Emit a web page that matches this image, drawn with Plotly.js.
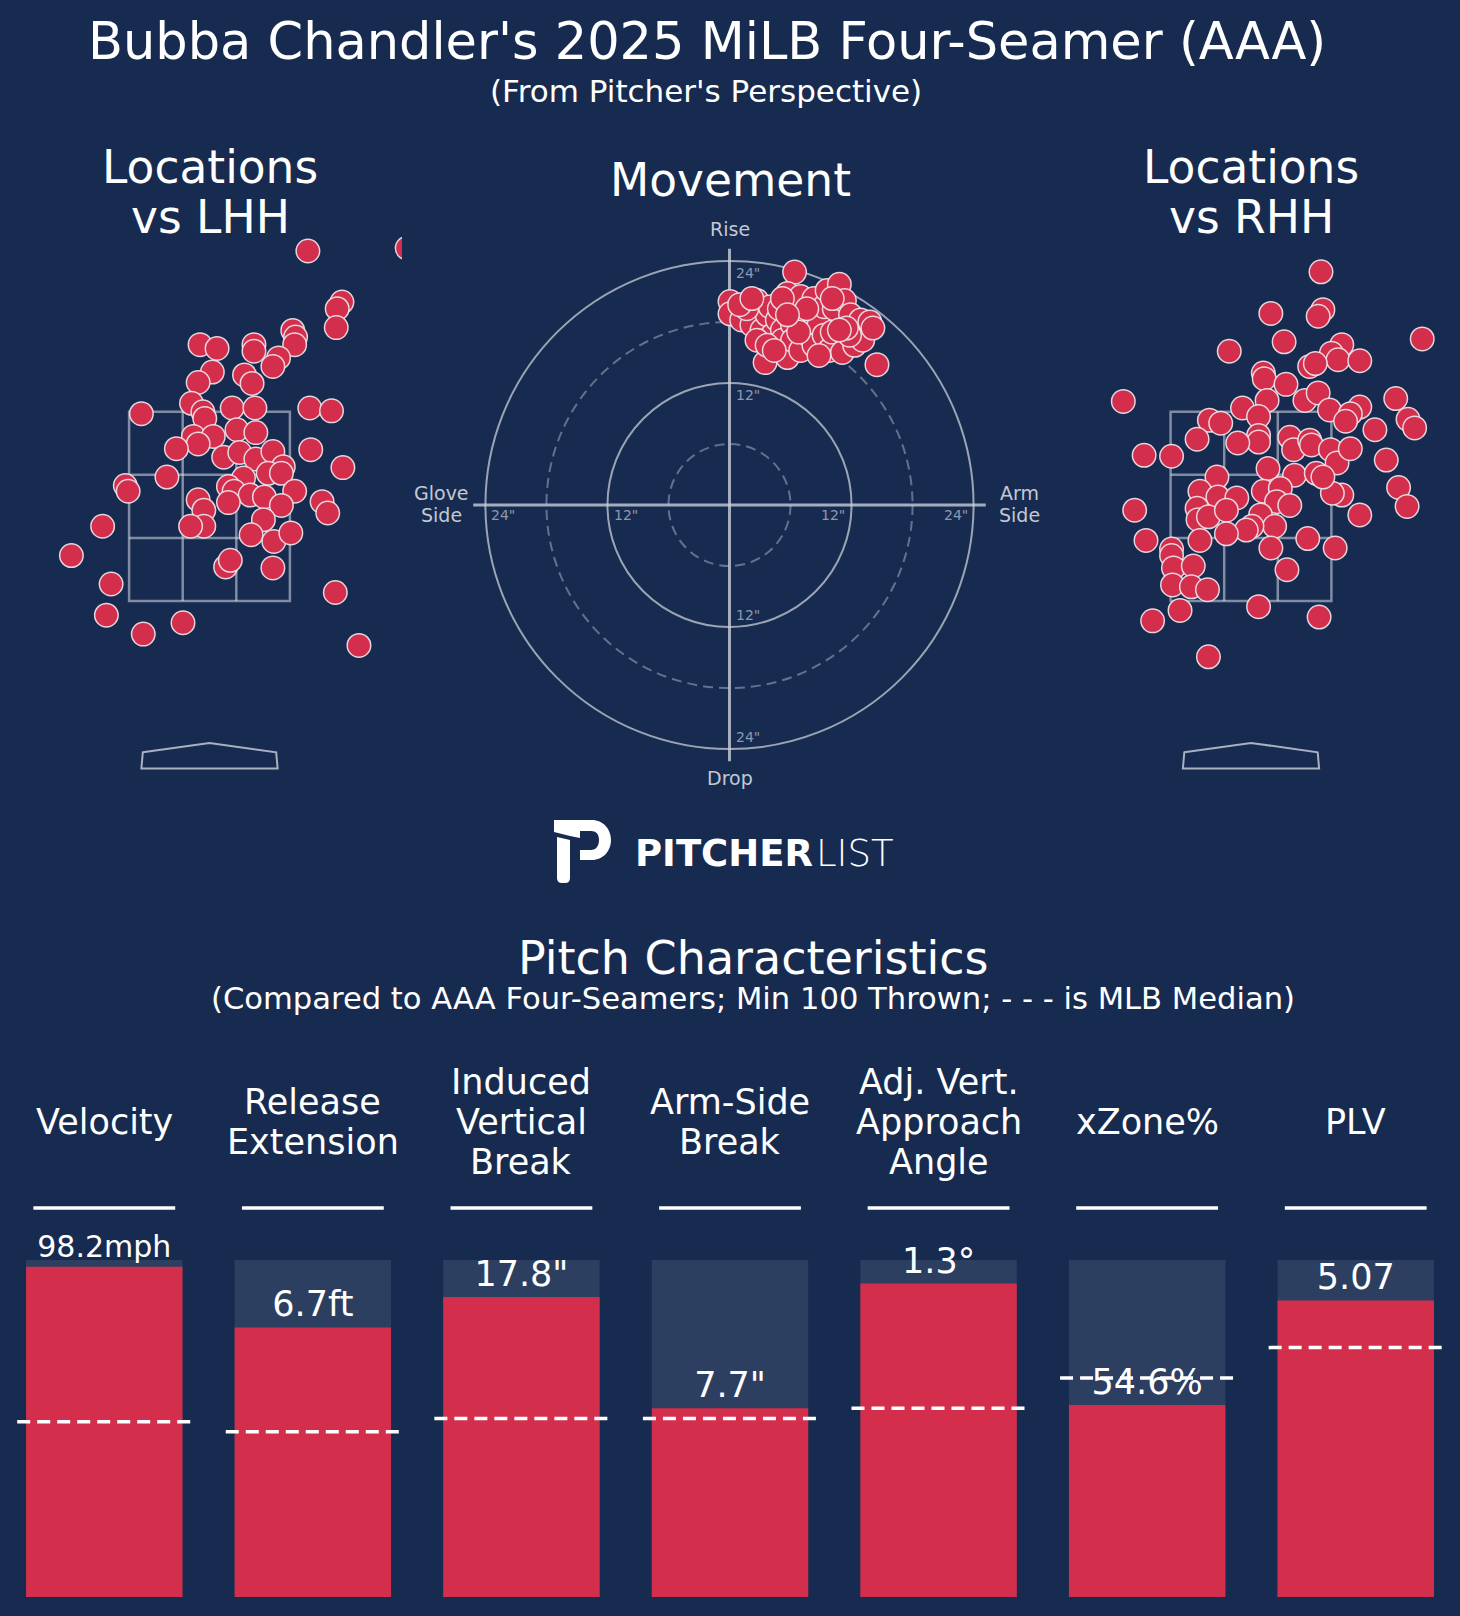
<!DOCTYPE html>
<html>
<head>
<meta charset="utf-8">
<script src="https://cdn.plot.ly/plotly-3.0.1.min.js"></script>
<style>
  body { margin: 0; background: #172b50; }
  #chart { width: 1460px; height: 1616px; }
</style>
</head>
<body>
<div id="chart"></div>
<script>
// pitch locations vs LHH (feet, pitcher's view)
const lhhX = [1.04, 2.09, 1.40, 1.35, 1.34, 0.88, 0.91, 0.90, -0.10, 0.08, 0.47, 0.47, 0.73, 0.67, 0.03,
  -0.12, 0.37, 0.45, -0.19, -0.72, -0.07, -0.05, 0.24, 0.48, 1.06, 1.29, 0.29, 0.49, -0.17, 0.04,
  -0.12, -0.35, 1.07, 0.15, 0.32, 0.49, 0.67, 0.78, 1.41, 0.62, 0.76, 0.36, -0.45, -0.89, -0.86,
  0.20, 0.26, 0.43, 0.58, 0.90, 1.19, 1.25, -0.12, -0.06, 0.20, 0.76, 0.57, -0.06, -0.20, 0.44,
  0.68, 0.86, -1.13, -1.46, 0.17, 0.22, 0.67, 1.33, -1.04, -1.09, -0.70, -0.28, 1.58];
const lhhY = [5.20, 5.23, 4.66, 4.59, 4.39, 4.36, 4.29, 4.21, 4.21, 4.17, 4.21, 4.14, 4.07, 3.98, 3.92,
  3.81, 3.89, 3.80, 3.59, 3.48, 3.50, 3.43, 3.54, 3.54, 3.54, 3.51, 3.31, 3.28, 3.24, 3.24,
  3.16, 3.11, 3.10, 3.02, 3.07, 3.00, 3.08, 2.92, 2.91, 2.85, 2.85, 2.80, 2.81, 2.72, 2.66,
  2.71, 2.66, 2.62, 2.60, 2.66, 2.55, 2.43, 2.57, 2.46, 2.54, 2.51, 2.36, 2.29, 2.29, 2.20,
  2.13, 2.22, 2.29, 1.98, 1.86, 1.93, 1.85, 1.59, 1.68, 1.35, 1.15, 1.27, 1.03];

// pitch locations vs RHH
const rhhX = [0.74, 0.76, 0.71, 0.21, 1.81, 0.35, -0.23, 0.96, 0.85, 0.92, 1.15, 0.62, 0.68, 0.13, 0.14,
  0.37, -1.35, 0.17, -0.09, 0.57, 0.71, 0.83, 1.15, 1.05, 1.00, 1.53, 1.66, 1.73, 1.31, 1.43,
  1.56, 1.65, 1.15, 0.96, 0.86, -0.44, -0.32, -0.57, 0.08, 0.08, 0.08, -0.14, 0.41, 0.45, 0.62,
  0.64, 0.84, 0.91, 1.05, -1.13, -0.84, 0.18, 0.46, 0.69, 0.76, -0.36, -0.54, -0.35, -0.15, 0.13,
  0.31, 0.27, 0.41, -0.57, -0.56, -0.45, -0.26, 0.10, 0.25, 0.01, -0.05, -0.26, -0.54, -1.23, -1.11,
  -0.84, -0.84, -0.82, -0.61, -0.83, -0.63, -0.46, 0.21, 0.60, 0.89, 0.38, -0.75, -1.04, 0.08, 0.72,
  -0.45];
const rhhY = [4.98, 4.58, 4.51, 4.54, 4.27, 4.24, 4.14, 4.21, 4.12, 4.05, 4.04, 3.98, 4.01, 3.91, 3.85,
  3.79, 3.61, 3.62, 3.54, 3.62, 3.70, 3.52, 3.55, 3.48, 3.40, 3.64, 3.42, 3.33, 3.31, 2.99,
  2.70, 2.50, 2.41, 2.62, 2.64, 3.41, 3.38, 3.21, 3.45, 3.25, 3.18, 3.17, 3.23, 3.10, 3.20,
  3.15, 3.10, 2.96, 3.11, 3.04, 3.03, 2.90, 2.83, 2.85, 2.81, 2.81, 2.66, 2.60, 2.59, 2.66,
  2.69, 2.55, 2.51, 2.48, 2.36, 2.39, 2.46, 2.41, 2.29, 2.29, 2.25, 2.21, 2.14, 2.46, 2.14,
  2.05, 1.98, 1.85, 1.87, 1.67, 1.65, 1.62, 2.06, 2.16, 2.06, 1.83, 1.40, 1.29, 1.44, 1.33,
  0.91];

// movement (inches): horizontal break (arm side +), induced vertical break
const hBreak = [6.4, 0.05, 0.05, 1.2, 2.2, 2.7, 3.2, 3.5, 3.7, 4.0, 4.2, 4.7, 4.9, 5.2, 5.2,
  5.7, 5.7, 6.0, 6.2, 6.2, 7.0, 7.0, 7.2, 7.8, 8.3, 8.3, 8.3, 8.8, 9.3, 9.3,
  9.6, 9.8, 10.1, 10.3, 10.8, 11.1, 11.3, 11.9, 12.3, 12.8, 12.9, 13.1, 13.8, 14.1, 14.5,
  1.7, 2.7, 3.7, 1.0, 2.2, 5.2, 7.6, 10.1, 11.8, 11.5, 6.8, 4.4, 8.8, 10.8, 5.7];
const vBreak = [22.9, 20.0, 18.8, 18.2, 17.7, 20.1, 17.2, 14.0, 18.7, 19.5, 16.7, 18.2, 19.3, 17.2, 16.2,
  20.8, 14.5, 20.0, 17.7, 16.2, 20.5, 15.2, 18.2, 16.7, 20.3, 18.7, 15.7, 17.7, 19.5, 16.7,
  21.1, 15.2, 17.0, 19.3, 21.7, 15.0, 20.1, 18.7, 15.7, 17.0, 18.2, 16.2, 18.0, 17.4, 13.8,
  19.3, 16.2, 15.7, 19.7, 20.3, 20.3, 19.3, 20.3, 16.7, 17.4, 17.0, 15.2, 14.7, 17.2, 18.7];

// pitch characteristics
const statNames = ['Velocity', 'Release\nExtension', 'Induced\nVertical\nBreak', 'Arm-Side\nBreak',
  'Adj. Vert.\nApproach\nAngle', 'xZone%', 'PLV'];
const statValues = [98.2, 6.7, 17.8, 7.7, 1.3, 54.6, 5.07];
const statUnits = ['mph', 'ft', '"', '"', '°', '%', ''];
const statPct = [98, 80, 89, 56, 93, 57, 88];
const medianPct = [52, 49, 53, 53, 56, 65, 74];

const ringInches = [6, 12, 18, 24];
const tickLabels = ['12"', '24"'];

const W = 1460, H = 1616;
const FONT = 'DejaVu Sans';
const bgColor = '#172b50';
const red = '#d32e4b';
const barBg = '#2d3f61';

fx = (p) => p / W;
fy = (p) => 1 - p / H;

var dotMarker = {
  color: red,
  size: 23.5,
  line: { color: 'rgba(240,232,238,0.9)', width: 1.5 }
};

// long value labels are shrunk to fit the bar
var valueText = statValues.map((v, i) => v + statUnits[i]);
var valueSize = valueText.map((t) => t.length > 6 ? 30 : 35);

var data = [
  { x: lhhX, y: lhhY, xaxis: 'x', yaxis: 'y', type: 'scatter', mode: 'markers', marker: dotMarker, hoverinfo: 'skip' },
  { x: hBreak, y: vBreak, xaxis: 'x2', yaxis: 'y2', type: 'scatter', mode: 'markers', marker: dotMarker, hoverinfo: 'skip' },
  { x: rhhX, y: rhhY, xaxis: 'x3', yaxis: 'y3', type: 'scatter', mode: 'markers', marker: dotMarker, hoverinfo: 'skip' },
  // full-height background bars, then percentile bars
  { x: statNames, y: statNames.map(() => 100), xaxis: 'x4', yaxis: 'y4', type: 'bar',
    marker: { color: barBg }, hoverinfo: 'skip' },
  { x: statNames, y: statPct, xaxis: 'x4', yaxis: 'y4', type: 'bar',
    marker: { color: red },
    text: valueText,
    textposition: 'outside', cliponaxis: false, constraintext: 'none',
    textfont: { family: FONT, size: valueSize, color: '#ffffff' }, hoverinfo: 'skip' },
  // empty trace so the pixel overlay axes exist
  { x: [], y: [], xaxis: 'x5', yaxis: 'y5', type: 'scatter', hoverinfo: 'skip' }
];

txt = (x, y, text, size, extra) => Object.assign({
  xref: 'x5', yref: 'y5', x: x, y: y, text: text, showarrow: false,
  font: { family: FONT, size: size, color: '#ffffff' },
  xanchor: 'center', yanchor: 'middle'
}, extra || {});

var annotations = [
  txt(707, 41, "Bubba Chandler's 2025 MiLB Four-Seamer (AAA)", 51),
  txt(706, 91, "(From Pitcher's Perspective)", 31),
  txt(210, 167, 'Locations', 45.5),
  txt(210, 217, 'vs LHH', 45.5),
  txt(730, 180, 'Movement', 45.5),
  txt(1251, 167, 'Locations', 45.5),
  txt(1251, 217, 'vs RHH', 45.5),
  txt(753, 958, 'Pitch Characteristics', 46),
  txt(753, 998, '(Compared to AAA Four-Seamers; Min 100 Thrown; - - - is MLB Median)', 30.6)
];

// movement axis labels
var moveLabel = { family: FONT, size: 19, color: '#c3c8d2' };
annotations.push(txt(730, 229, 'Rise', 19, { font: moveLabel }));
annotations.push(txt(730, 778, 'Drop', 19, { font: moveLabel }));
annotations.push(txt(441, 493, 'Glove', 19, { font: moveLabel }));
annotations.push(txt(441, 515, 'Side', 19, { font: moveLabel }));
annotations.push(txt(1019, 493, 'Arm', 19, { font: moveLabel }));
annotations.push(txt(1019, 515, 'Side', 19, { font: moveLabel }));

// ring labels inside each solid ring
var tickFont = { family: FONT, size: 14, color: '#8e99ad' };
[12, 24].forEach((r, k) => {
  var lab = tickLabels[k];
  var base = { xref: 'x2', yref: 'y2', showarrow: false, text: lab, font: tickFont, yanchor: 'middle' };
  annotations.push(Object.assign({}, base, { x: -r + 0.4, y: -1.0, xanchor: 'left' }));
  annotations.push(Object.assign({}, base, { x: r - 0.4, y: -1.0, xanchor: 'right' }));
  annotations.push(Object.assign({}, base, { x: 0.4, y: r - 1.2, xanchor: 'left' }));
  annotations.push(Object.assign({}, base, { x: 0.4, y: -r + 1.2, xanchor: 'left' }));
});

// stat names above the bars, one annotation per line
statNames.forEach((name, i) => {
  var lines = name.split('\n');
  lines.forEach((ln, k) => {
    annotations.push({
      xref: 'x4', yref: 'y5', x: i, y: 1122 + (k - (lines.length - 1) / 2) * 40,
      text: ln, showarrow: false, xanchor: 'center', yanchor: 'middle',
      font: { family: FONT, size: 35, color: '#ffffff' }
    });
  });
});

// logo wordmark
annotations.push(txt(815, 853, 'PITCHER', 37, { xanchor: 'right', font: { family: FONT, size: 37, color: '#ffffff', weight: 700 } }));
annotations.push(txt(814, 853, 'LIST', 37, { xanchor: 'left', font: { family: FONT, size: 37, color: '#ffffff', weight: 200 } }));

var shapes = [];
var zoneLine = { color: 'rgba(215,220,230,0.55)', width: 2.5 };

// strike zone + plate for both location panels
[['x', 'y'], ['x3', 'y3']].forEach((ax) => {
  var s = { xref: ax[0], yref: ax[1], layer: 'below', line: zoneLine };
  shapes.push(Object.assign({ type: 'rect', x0: -0.85, x1: 0.85, y0: 1.5, y1: 3.5 }, s));
  [-0.2833, 0.2833].forEach((v) => shapes.push(Object.assign({ type: 'line', x0: v, x1: v, y0: 1.5, y1: 3.5 }, s)));
  [2.1667, 2.8333].forEach((v) => shapes.push(Object.assign({ type: 'line', x0: -0.85, x1: 0.85, y0: v, y1: v }, s)));
  shapes.push({ type: 'path', xref: ax[0], yref: ax[1], layer: 'below',
    path: 'M -0.705,-0.1 L 0,0 L 0.705,-0.1 L 0.72,-0.27 L -0.72,-0.27 Z',
    line: { color: 'rgba(205,210,222,0.8)', width: 2 } });
});

// movement rings and axes
ringInches.forEach((r) => {
  var solid = r % 12 === 0;
  shapes.push({ type: 'circle', xref: 'x2', yref: 'y2', x0: -r, x1: r, y0: -r, y1: r, layer: 'below',
    line: { color: solid ? 'rgba(200,205,215,0.75)' : 'rgba(130,145,170,0.7)', width: 2, dash: solid ? 'solid' : '10px,6px' } });
});
shapes.push({ type: 'line', xref: 'x2', yref: 'y2', x0: -25.2, x1: 25.2, y0: 0, y1: 0, layer: 'below',
  line: { color: 'rgba(200,206,218,0.8)', width: 3 } });
shapes.push({ type: 'line', xref: 'x2', yref: 'y2', x0: 0, x1: 0, y0: -25.2, y1: 25.2, layer: 'below',
  line: { color: 'rgba(200,206,218,0.8)', width: 3 } });

// header rules and MLB median dashes
statNames.forEach((n, i) => {
  shapes.push({ type: 'line', xref: 'x4', yref: 'y5', x0: i - 0.34, x1: i + 0.34, y0: 1208, y1: 1208,
    line: { color: '#ffffff', width: 3.5 } });
  shapes.push({ type: 'line', xref: 'x4', yref: 'y4', x0: i - 0.4175, x1: i + 0.4175, y0: medianPct[i], y1: medianPct[i],
    layer: 'above', line: { color: '#ffffff', width: 3.5, dash: '13px,7px' } });
});

// logo "P" mark
shapes.push({ type: 'path', xref: 'x5', yref: 'y5', layer: 'above', fillcolor: '#ffffff', line: { width: 0 },
  path: 'M 554 820 L 592 820 C 603 820 611 829 611 840 C 611 851 603 860 592 860 L 580 860 L 580 850 L 591 850 C 596 850 599 846 599 840 C 599 834 596 831 591 831 L 580 831 L 580 838 L 570 836 L 554 832 Z' });
shapes.push({ type: 'path', xref: 'x5', yref: 'y5', layer: 'above', fillcolor: '#ffffff', line: { width: 0 },
  path: 'M 557 837 L 570 840 L 570 878 Q 570 883 565 883 L 562 883 Q 557 883 557 878 Z' });

var hidden = { visible: false, fixedrange: true, showgrid: false, zeroline: false };

var layout = {
  width: W, height: H,
  margin: { l: 0, r: 0, t: 0, b: 0, pad: 0 },
  paper_bgcolor: bgColor,
  plot_bgcolor: 'rgba(0,0,0,0)',
  showlegend: false,
  barmode: 'overlay',
  bargap: 0.25,
  xaxis: Object.assign({ domain: [fx(17), fx(402)], range: [-2.035, 2.035], anchor: 'y' }, hidden),
  yaxis: Object.assign({ domain: [fy(790.2), fy(222.6)], range: [-0.5, 5.5], anchor: 'x' }, hidden),
  xaxis2: Object.assign({ domain: [fx(424.4), fx(1034.6)], range: [-30, 30], anchor: 'y2' }, hidden),
  yaxis2: Object.assign({ domain: [fy(810.1), fy(199.9)], range: [-30, 30], anchor: 'x2' }, hidden),
  xaxis3: Object.assign({ domain: [fx(1058.5), fx(1443.5)], range: [-2.035, 2.035], anchor: 'y3' }, hidden),
  yaxis3: Object.assign({ domain: [fy(790.2), fy(222.6)], range: [-0.5, 5.5], anchor: 'x3' }, hidden),
  xaxis4: Object.assign({ domain: [0, 1], range: [-0.5, 6.5], type: 'category', anchor: 'y4' }, hidden),
  yaxis4: Object.assign({ domain: [fy(1597), fy(1260)], range: [0, 100], anchor: 'x4' }, hidden),
  xaxis5: Object.assign({ domain: [0, 1], range: [0, W], anchor: 'y5' }, hidden),
  yaxis5: Object.assign({ domain: [0, 1], range: [H, 0], anchor: 'x5' }, hidden),
  annotations: annotations,
  shapes: shapes
};

Plotly.newPlot('chart', data, layout, { staticPlot: true });
</script>
</body>
</html>
